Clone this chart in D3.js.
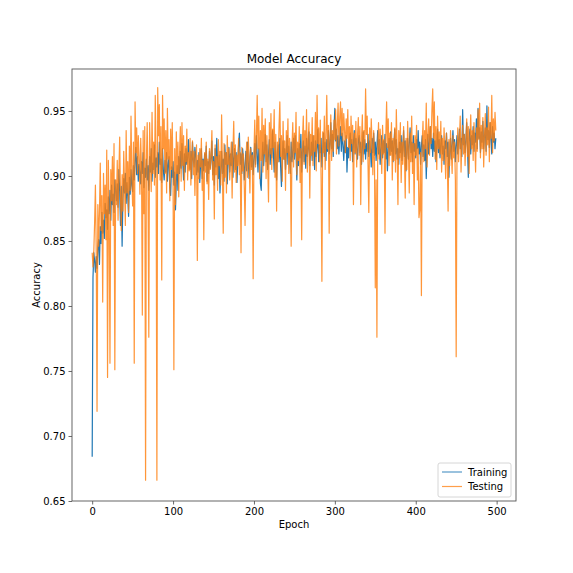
<!DOCTYPE html>
<html>
<head>
  <meta charset="utf-8">
  <script src="https://d3js.org/d3.v7.min.js"></script>
  <style>
    body { margin: 0; background: #fff; }
    text { font-family: "DejaVu Sans", sans-serif; fill: #000; }
  </style>
</head>
<body>
<div id="chart"></div>
<script>
// accuracy per epoch
var training = [
  0.684,0.822,0.841,0.835,0.826,0.838,0.829,0.845,0.851,0.832, 0.861,0.848,0.872,0.856,0.866,0.852,0.879,0.868,0.874,0.859,
  0.884,0.871,0.889,0.866,0.893,0.878,0.886,0.872,0.897,0.889, 0.881,0.894,0.876,0.905,0.888,0.862,0.892,0.846,0.883,0.898,
  0.887,0.902,0.879,0.895,0.884,0.869,0.899,0.886,0.905,0.893, 0.888,0.908,0.897,0.912,0.922,0.901,0.915,0.896,0.909,0.903,
  0.894,0.911,0.902,0.918,0.891,0.906,0.899,0.913,0.897,0.908, 0.889,0.915,0.903,0.921,0.896,0.910,0.905,0.924,0.899,0.914,
  0.907,0.918,0.902,0.926,0.909,0.913,0.895,0.921,0.904,0.897, 0.912,0.903,0.918,0.896,0.909,0.915,0.891,0.885,0.907,0.899,
  0.911,0.893,0.903,0.874,0.896,0.908,0.889,0.915,0.902,0.919, 0.906,0.925,0.911,0.897,0.917,0.903,0.921,0.909,0.914,0.928,
  0.912,0.905,0.919,0.898,0.926,0.913,0.907,0.922,0.915,0.901, 0.912,0.903,0.918,0.895,0.909,0.921,0.898,0.913,0.904,0.917,
  0.908,0.923,0.896,0.911,0.902,0.919,0.906,0.914,0.927,0.901, 0.915,0.893,0.921,0.907,0.929,0.912,0.898,0.916,0.887,0.905,
  0.919,0.902,0.913,0.896,0.924,0.909,0.918,0.894,0.911,0.922, 0.903,0.917,0.908,0.926,0.899,0.914,0.921,0.905,0.918,0.895,
  0.911,0.924,0.933,0.909,0.917,0.902,0.921,0.913,0.897,0.908, 0.919,0.904,0.926,0.911,0.898,0.915,0.922,0.907,0.918,0.901,
  0.913,0.925,0.909,0.931,0.917,0.903,0.921,0.912,0.894,0.889, 0.915,0.926,0.908,0.919,0.932,0.911,0.924,0.905,0.917,0.928,
  0.909,0.921,0.914,0.935,0.918,0.903,0.926,0.912,0.897,0.919, 0.924,0.911,0.929,0.907,0.892,0.915,0.927,0.913,0.921,0.905,
  0.918,0.931,0.909,0.923,0.914,0.902,0.926,0.911,0.919,0.929, 0.913,0.931,0.917,0.897,0.921,0.908,0.925,0.914,0.932,0.903,
  0.919,0.927,0.911,0.923,0.906,0.929,0.915,0.921,0.934,0.908, 0.917,0.926,0.912,0.931,0.919,0.905,0.927,0.915,0.922,0.936,
  0.911,0.924,0.918,0.929,0.907,0.921,0.933,0.915,0.926,0.912, 0.928,0.919,0.935,0.917,0.924,0.941,0.921,0.932,0.915,0.938,
  0.952,0.927,0.936,0.921,0.931,0.917,0.929,0.938,0.919,0.933, 0.924,0.912,0.927,0.918,0.931,0.903,0.922,0.914,0.926,0.933,
  0.919,0.928,0.911,0.925,0.935,0.917,0.929,0.921,0.913,0.927, 0.931,0.918,0.926,0.909,0.922,0.934,0.917,0.928,0.913,0.925,
  0.919,0.932,0.915,0.927,0.921,0.907,0.929,0.918,0.933,0.916, 0.926,0.912,0.923,0.935,0.917,0.928,0.909,0.921,0.931,0.914,
  0.927,0.918,0.932,0.913,0.925,0.904,0.921,0.929,0.916,0.934, 0.919,0.927,0.911,0.924,0.936,0.917,0.928,0.913,0.921,0.909,
  0.926,0.918,0.931,0.912,0.923,0.935,0.915,0.927,0.904,0.921, 0.929,0.913,0.924,0.937,0.918,0.926,0.911,0.931,0.919,0.925,
  0.914,0.928,0.921,0.935,0.917,0.926,0.909,0.923,0.931,0.915, 0.924,0.912,0.928,0.898,0.919,0.932,0.917,0.926,0.938,0.921,
  0.929,0.915,0.933,0.919,0.927,0.911,0.924,0.936,0.918,0.928, 0.914,0.925,0.931,0.917,0.923,0.909,0.927,0.921,0.933,0.915,
  0.926,0.899,0.918,0.929,0.913,0.924,0.935,0.919,0.928,0.911, 0.923,0.931,0.917,0.927,0.936,0.921,0.929,0.915,0.951,0.924,
  0.932,0.918,0.927,0.941,0.922,0.899,0.929,0.936,0.917,0.931, 0.924,0.938,0.919,0.933,0.926,0.944,0.921,0.952,0.929,0.937,
  0.918,0.934,0.926,0.942,0.921,0.931,0.937,0.919,0.954,0.928, 0.935,0.922,0.941,0.929,0.917,0.938,0.926,0.933,0.921,0.929
];

var testing = [
  0.841,0.830,0.842,0.864,0.893,0.842,0.719,0.878,0.846,0.872, 0.910,0.858,0.885,0.803,0.902,0.871,0.893,0.851,0.920,0.745,
  0.912,0.868,0.756,0.905,0.881,0.915,0.862,0.925,0.751,0.897, 0.878,0.912,0.866,0.902,0.930,0.884,0.858,0.901,0.873,0.919,
  0.893,0.862,0.935,0.887,0.911,0.872,0.923,0.889,0.946,0.901, 0.877,0.926,0.756,0.957,0.918,0.937,0.902,0.931,0.915,0.886,
  0.929,0.905,0.793,0.935,0.871,0.938,0.666,0.911,0.941,0.896, 0.776,0.941,0.913,0.888,0.949,0.902,0.926,0.893,0.962,0.918,
  0.666,0.968,0.931,0.955,0.897,0.938,0.820,0.962,0.921,0.944, 0.902,0.935,0.887,0.952,0.913,0.928,0.881,0.936,0.905,0.941,
  0.893,0.751,0.921,0.878,0.934,0.902,0.926,0.884,0.917,0.938, 0.896,0.941,0.908,0.931,0.889,0.923,0.911,0.936,0.897,0.918,
  0.904,0.929,0.893,0.915,0.927,0.901,0.919,0.885,0.912,0.924, 0.835,0.916,0.898,0.921,0.907,0.929,0.889,0.912,0.851,0.918,
  0.903,0.926,0.894,0.913,0.882,0.921,0.905,0.917,0.935,0.897, 0.911,0.867,0.924,0.901,0.915,0.889,0.928,0.908,0.919,0.893,
  0.947,0.906,0.856,0.925,0.899,0.918,0.887,0.931,0.909,0.921, 0.897,0.914,0.926,0.883,0.919,0.942,0.903,0.924,0.895,0.916,
  0.908,0.929,0.901,0.918,0.841,0.922,0.904,0.917,0.893,0.862, 0.911,0.926,0.899,0.930,0.912,0.887,0.921,0.905,0.916,0.821,
  0.918,0.943,0.907,0.929,0.962,0.921,0.946,0.898,0.935,0.912, 0.952,0.903,0.939,0.917,0.944,0.898,0.931,0.909,0.880,0.941,
  0.917,0.948,0.905,0.936,0.922,0.951,0.899,0.932,0.873,0.926, 0.911,0.938,0.957,0.915,0.931,0.896,0.942,0.913,0.927,0.889,
  0.935,0.918,0.944,0.902,0.929,0.911,0.846,0.923,0.941,0.907, 0.933,0.918,0.949,0.901,0.926,0.912,0.938,0.895,0.921,0.851,
  0.929,0.946,0.909,0.935,0.917,0.951,0.903,0.928,0.941,0.883, 0.932,0.916,0.945,0.908,0.931,0.919,0.949,0.904,0.962,0.925,
  0.937,0.911,0.943,0.898,0.819,0.934,0.918,0.946,0.905,0.931, 0.962,0.921,0.939,0.856,0.928,0.947,0.912,0.935,0.919,0.943,
  0.928,0.951,0.917,0.939,0.956,0.923,0.945,0.957,0.931,0.952, 0.927,0.948,0.935,0.918,0.944,0.929,0.951,0.922,0.938,0.912,
  0.946,0.925,0.939,0.878,0.933,0.918,0.942,0.907,0.931,0.945, 0.916,0.938,0.878,0.929,0.947,0.911,0.935,0.921,0.967,0.932,
  0.946,0.909,0.872,0.937,0.918,0.944,0.926,0.901,0.935,0.912, 0.814,0.897,0.776,0.921,0.941,0.913,0.936,0.924,0.902,0.939,
  0.917,0.928,0.856,0.931,0.957,0.922,0.944,0.908,0.933,0.916, 0.941,0.897,0.929,0.912,0.937,0.903,0.951,0.921,0.878,0.935,
  0.914,0.941,0.895,0.926,0.909,0.938,0.917,0.883,0.929,0.905, 0.942,0.918,0.887,0.933,0.911,0.946,0.902,0.925,0.878,0.931,
  0.916,0.939,0.897,0.921,0.868,0.874,0.918,0.808,0.926,0.942, 0.911,0.935,0.921,0.956,0.907,0.931,0.944,0.916,0.938,0.925,
  0.951,0.967,0.929,0.957,0.913,0.938,0.905,0.946,0.921,0.934, 0.917,0.942,0.903,0.929,0.912,0.937,0.921,0.898,0.933,0.915,
  0.873,0.928,0.908,0.935,0.919,0.902,0.931,0.914,0.926,0.897, 0.761,0.918,0.937,0.911,0.929,0.946,0.903,0.924,0.939,0.917,
  0.932,0.908,0.926,0.944,0.915,0.938,0.902,0.929,0.947,0.921, 0.935,0.912,0.941,0.926,0.903,0.937,0.919,0.951,0.928,0.956,
  0.914,0.939,0.921,0.945,0.907,0.932,0.948,0.916,0.937,0.924, 0.953,0.911,0.941,0.929,0.962,0.918,0.944,0.927,0.949,0.935
];

var xTicks = [0, 100, 200, 300, 400, 500];
var yTicks = [0.65, 0.70, 0.75, 0.80, 0.85, 0.90, 0.95];
var seriesNames = ["Training", "Testing"];
var colors = ["#1f77b4", "#ff7f0e"];
var opac = [1, 0.82];

var W = 573, H = 573;
var m = {left: 72, right: 516, top: 69, bottom: 501};

var svg = d3.select("#chart").append("svg")
  .attr("width", W).attr("height", H);
svg.append("rect").attr("width", W).attr("height", H).attr("fill", "#fff");

var n = training.length;
var pad = (n - 1) * 0.05;
var x = d3.scaleLinear().domain([-pad, n - 1 + pad]).range([m.left, m.right]);
var y = d3.scaleLinear().domain([0.65, 0.9823]).range([m.bottom, m.top]);

svg.append("clipPath").attr("id", "clip")
  .append("rect").attr("x", m.left).attr("y", m.top)
  .attr("width", m.right - m.left).attr("height", m.bottom - m.top);

var line = d3.line()
  .x(function(d, i) { return x(i); })
  .y(function(d) { return y(d); });

var plot = svg.append("g").attr("clip-path", "url(#clip)");
[training, testing].forEach(function(s, k) {
  plot.append("path")
    .datum(s)
    .attr("fill", "none")
    .attr("stroke", colors[k])
    .attr("stroke-opacity", opac[k])
    .attr("stroke-width", 1.2)
    .attr("stroke-linejoin", "round")
    .attr("d", line);
});

// axes
var xAxis = svg.append("g")
  .attr("transform", "translate(0," + m.bottom + ")")
  .call(d3.axisBottom(x).tickValues(xTicks).tickSize(3.5).tickPadding(3).tickFormat(d3.format("d")));
var yAxis = svg.append("g")
  .attr("transform", "translate(" + m.left + ",0)")
  .call(d3.axisLeft(y).tickValues(yTicks).tickSize(3.5).tickPadding(3).tickFormat(d3.format(".2f")));
[xAxis, yAxis].forEach(function(a) {
  a.select(".domain").remove();
  a.selectAll("line").attr("stroke", "#444").attr("stroke-width", 0.8);
  a.selectAll("text").attr("font-size", 10).attr("font-family", "DejaVu Sans, sans-serif").attr("fill", "#111");
});

// frame
svg.append("rect")
  .attr("x", m.left).attr("y", m.top)
  .attr("width", m.right - m.left).attr("height", m.bottom - m.top)
  .attr("fill", "none").attr("stroke", "#555").attr("stroke-width", 0.9);

// labels
svg.append("text").attr("x", (m.left + m.right) / 2).attr("y", 63)
  .attr("text-anchor", "middle").attr("font-size", 12).text("Model Accuracy");
svg.append("text").attr("x", (m.left + m.right) / 2).attr("y", 528)
  .attr("text-anchor", "middle").attr("font-size", 10).text("Epoch");
svg.append("text")
  .attr("transform", "translate(40," + ((m.top + m.bottom) / 2) + ") rotate(-90)")
  .attr("text-anchor", "middle").attr("font-size", 10).text("Accuracy");

// legend
var lg = svg.append("g");
lg.append("rect")
  .attr("x", 438).attr("y", 463).attr("width", 73).attr("height", 34)
  .attr("rx", 2).attr("fill", "#fff").attr("fill-opacity", 0.8)
  .attr("stroke", "#ccc").attr("stroke-width", 0.8);
seriesNames.forEach(function(name, k) {
  var yy = 472 + k * 14.5;
  lg.append("line")
    .attr("x1", 442).attr("x2", 462).attr("y1", yy).attr("y2", yy)
    .attr("stroke", colors[k]).attr("stroke-opacity", 0.75).attr("stroke-width", 1.2);
  lg.append("text").attr("x", 468).attr("y", yy + 3.6)
    .attr("font-size", 10).text(name);
});
</script>
</body>
</html>
